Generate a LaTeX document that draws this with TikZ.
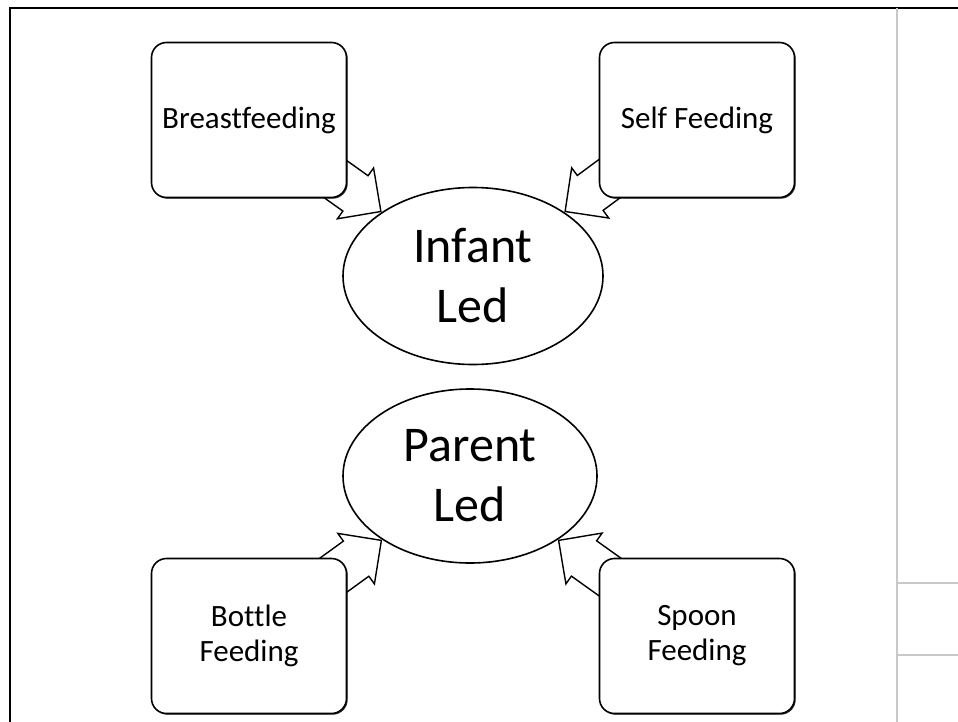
\documentclass[tikz,border=0pt]{standalone}
\usepackage{fontspec}
\setmainfont{Carlito}[Ligatures=NoCommon]
\usetikzlibrary{calc,shapes.geometric,shapes.arrows,shadows,backgrounds}
\definecolor{ink}{HTML}{000000}
\definecolor{rule}{HTML}{C8C8C8}
\tikzset{
  frame/.style={draw=ink, line width=1.2pt},
  grid/.style={draw=rule, line width=0.6pt},
  box/.style={draw=ink, fill=white, line width=0.8pt, rounded corners=7.5pt,
    minimum width=97.5pt, minimum height=77.5pt, align=center,
    font=\fontsize{15.5}{17.5}\selectfont,
    drop shadow={shadow xshift=0.6pt, shadow yshift=-0.6pt, fill=ink, opacity=0.8}},
  lead/.style={ellipse, draw=ink, fill=white, line width=0.8pt, inner sep=0pt,
    align=center, font=\fontsize{25}{30}\selectfont},
  fat/.style={single arrow, draw=ink, fill=white, line width=0.7pt, anchor=tip,
    single arrow tip angle=90, single arrow head extend=4.75pt,
    inner xsep=0pt, inner ysep=10.5pt, minimum height=37.5pt},
}
\begin{document}
\begin{tikzpicture}[x=0.5pt, y=-0.5pt]
  \useasboundingbox (0,0) rectangle (958,722);
  \draw[frame] (10,722) -- (10,8) -- (958,8);
  \draw[grid] (897,8) -- (897,722);
  \draw[grid] (897,583) -- (958,583);
  \draw[grid] (897,655) -- (958,655);

  \node[box] (bf) at (249,120) {Breastfeeding};
  \node[box] (sf) at (697,120) {Self Feeding};
  \node[box] (bt) at (249,636) {Bottle\\Feeding};
  \node[box] (sp) at (697,636) {Spoon\\Feeding};
  \node[lead, minimum width=130pt, minimum height=88.5pt] (inf) at (473,276) {Infant\\Led};
  \node[lead, minimum width=127pt, minimum height=87pt] (par) at (470,476) {Parent\\Led};

  \coordinate (bft) at (317,166);
  \coordinate (sft) at (628,165);
  \coordinate (btt) at (317,587);
  \coordinate (spt) at (624,587);
  \begin{scope}[on background layer]
    \foreach \t/\h in {bft/inf.145, sft/inf.35, btt/par.216, spt/par.-36}
      \path let \p1=(\t), \p2=(\h), \n1={atan2(\y2-\y1,\x2-\x1)} in
        node[fat, rotate=\n1] at (\p2) {};
  \end{scope}
\end{tikzpicture}
\end{document}
